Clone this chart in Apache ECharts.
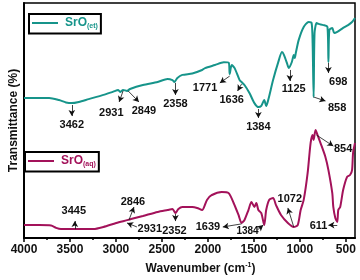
<!DOCTYPE html>
<html><head><meta charset="utf-8">
<script src="https://cdn.jsdelivr.net/npm/echarts@6/dist/echarts.min.js"></script>
<style>html,body{margin:0;padding:0;background:#fff}#c{width:360px;height:280px}</style>
</head><body><div id="c"></div>
<script>
// ---- data (wavenumber cm-1, transmittance in arbitrary %) ----
const wnEt = [4000,3726,3619,3544,3480,3404,3297,3136,3029,2975,2954,2922,2879,2847,2707,2546,2439,2385,2364,2332,2278,2170,2063,2031,1924,1827,1774,1763,1741,1709,1655,1634,1602,1548,1494,1451,1419,1387,1366,1344,1291,1237,1194,1173,1141,1119,1087,1066,1055,1044,1012,958,904,872,861,850,840,818,797,743,700,689,679,647,626,593,529,475,432,400];
const tEt  = [59.6,59.6,58.7,57.7,57.4,57.9,59.1,60.9,62.3,63.0,62.1,63.0,62.6,63.4,65.1,66.4,67.7,67.2,66.4,68.1,69.4,70.0,71.5,72.3,73.6,74.8,74.6,69.8,73.6,72.3,67.2,66.4,65.1,61.7,57.4,55.7,56.2,58.7,56.2,58.7,67.2,74.5,79.1,77.9,74.5,72.3,74.9,77.9,76.6,78.7,84.3,89.8,91.9,91.5,83.0,60.0,87.2,91.5,91.1,90.6,89.8,74.9,88.5,89.4,87.2,87.7,89.4,90.6,91.9,93.6];
const wnAq = [4000,3834,3705,3651,3598,3404,3244,3136,2997,2868,2836,2707,2546,2439,2385,2353,2321,2278,2170,2117,2063,2010,1956,1849,1774,1720,1667,1634,1602,1559,1526,1494,1473,1451,1419,1387,1366,1334,1291,1259,1205,1130,1066,1023,991,958,915,883,861,850,829,807,775,722,689,647,636,614,593,582,561,529,486,454,432,421,400];
const tAq  = [5.5,5.5,5.3,4.3,3.8,3.8,3.8,4.7,6.4,7.7,8.1,9.4,11.1,11.9,12.3,10.6,12.3,13.2,13.2,12.8,11.9,16.2,18.3,19.6,19.1,14.9,9.8,6.4,7.7,11.9,15.3,13.2,14.9,11.9,10.6,5.5,11.9,16.2,17.0,14.0,9.8,6.4,4.7,5.5,11.9,16.2,27.7,40.4,43.8,41.7,46.0,43.8,40.4,34.5,28.9,19.1,13.2,8.5,6.8,11.9,13.2,20.4,26.0,26.8,28.9,36.2,40.4];
const xTicks = [4000,3500,3000,2500,2000,1500,1000,500];
const xMinor = [3750,3250,2750,2250,1750,1250,750];
const seriesNames = ['SrO(et)','SrO(aq)'];
// peak annotations: [text, labelW, labelV, fromW, fromV, toW, toV]
const annEt = [
 ['3462',3480,48.1,3480,56.6,3480,51.9],
 ['2931',3050,53.2,2922,62.6,2965,57.9],
 ['2849',2696,54.0,2868,62.6,2750,57.9],
 ['2358',2353,57.0,2353,66.0,2353,60.9],
 ['1771',2031,63.8,1763,68.9,1870,66.0],
 ['1636',1741,58.7,1634,65.5,1677,62.6],
 ['1384',1451,47.2,1451,54.9,1451,51.1],
 ['1125',1066,63.4,1109,71.5,1109,66.8],
 ['698',582,66.4,689,74.5,689,70.2],
 ['858',594,55.3,850,60.0,721,58.3]
];
const annAq = [
 ['3445',3458,11.5,3447,3.8,3447,7.2],
 ['2846',2815,15.3,2858,7.7,2804,13.2],
 ['2931',2632,3.8,2772,4.7,2879,6.4],
 ['2352',2364,3.0,2353,10.2,2353,7.2],
 ['1639',2000,4.7,1634,6.0,1838,4.7],
 ['1384',1569,3.0,1462,3.4,1398,5.5],
 ['1072',1109,16.6,1066,4.7,1130,12.8],
 ['611',797,5.1,593,5.5,689,5.5],
 ['854',529,37.9,818,43.8,636,39.1]
];
// ---- styles ----
const cEt = '#16948a', cAq = '#a3125a';
const FONT = '"Liberation Sans", Arial, sans-serif';
function zip(a,b){return a.map((v,i)=>[v,b[i]]);}
function marks(ann, small){
  return {
    markLine:{silent:true,animation:false,symbol:['none','arrow'],symbolSize:[5,6],
      lineStyle:{color:'#111',width:0.8,type:'solid'},label:{show:false},
      data: ann.map(a=>[{coord:[a[3],a[4]]},{coord:[a[5],a[6]]}])},
    markPoint:{silent:true,animation:false,symbol:'circle',symbolSize:0,
      data: ann.map(a=>({coord:[a[1],a[2]],value:a[0],
        label:{show:true,position:'inside',formatter:a[0],color:'#111',fontFamily:FONT,fontWeight:'bold',
               fontSize:(small&&a[0]==='1384')?10:11}}))}
  };
}
const chart = echarts.init(document.getElementById('c'),null,{renderer:'canvas'});
const legendBase = {orient:'horizontal',itemWidth:26,itemHeight:2,itemGap:0,icon:'rect',
  borderColor:'#000',borderWidth:2,borderRadius:0,padding:[3,3,4,3],selectedMode:false};
chart.setOption({
  animation:false,
  grid:{left:20,right:5,top:3,bottom:42,show:true,borderColor:'#000',borderWidth:1.5},
  legend:[
    Object.assign({},legendBase,{left:29,top:14,data:[{name:seriesNames[0],textStyle:{color:cEt}}],
      formatter:()=> '{a|SrO}{b|(et)}',
      textStyle:{padding:[0,0,0,2],rich:{a:{fontSize:12,fontWeight:'bold',fontFamily:FONT,color:cEt},
        b:{fontSize:7,fontWeight:'bold',fontFamily:FONT,color:cEt,verticalAlign:'bottom',padding:[6,0,0,0]}}}}),
    Object.assign({},legendBase,{left:25,top:152,data:[{name:seriesNames[1],textStyle:{color:cAq}}],
      formatter:()=> '{a|SrO}{b|(aq)}',
      textStyle:{padding:[0,0,0,2],rich:{a:{fontSize:12,fontWeight:'bold',fontFamily:FONT,color:cAq},
        b:{fontSize:7,fontWeight:'bold',fontFamily:FONT,color:cAq,verticalAlign:'bottom',padding:[6,0,0,0]}}}})
  ],
  xAxis:[{
    type:'value',min:400,max:4000,inverse:true,
    name:'Wavenumber (cm{s|-1})',nameLocation:'middle',nameGap:24,
    nameTextStyle:{fontFamily:FONT,fontWeight:'bold',fontSize:12,color:'#111',padding:[0,0,0,22],
      rich:{s:{fontSize:7,fontWeight:'bold',fontFamily:FONT,verticalAlign:'top',padding:[0,0,6,0]}}},
    axisLine:{show:true,lineStyle:{color:'#000',width:2}},
    axisTick:{show:true,length:4,inside:false,customValues:xTicks,lineStyle:{color:'#000',width:1.5}},
    axisLabel:{customValues:xTicks,formatter:v=>String(v),fontFamily:FONT,fontWeight:'bold',fontSize:12,color:'#111',margin:6},
    splitLine:{show:false}
  },{
    type:'value',min:400,max:4000,inverse:true,position:'bottom',
    axisLine:{show:false},axisLabel:{show:false},splitLine:{show:false},
    axisTick:{show:true,length:2,customValues:xMinor,lineStyle:{color:'#000',width:1.5}}
  }],
  yAxis:{type:'value',min:0,max:100,name:'Transmittance (%)',nameLocation:'middle',nameGap:4,
    nameTextStyle:{fontFamily:FONT,fontWeight:'bold',fontSize:12,color:'#111'},
    axisLine:{show:true,lineStyle:{color:'#000',width:2}},axisTick:{show:false},axisLabel:{show:false},splitLine:{show:false}},
  series:[
    Object.assign({name:seriesNames[0],type:'line',data:zip(wnEt,tEt),showSymbol:false,smooth:0.25,
      lineStyle:{color:cEt,width:2},itemStyle:{color:cEt}},marks(annEt,false)),
    Object.assign({name:seriesNames[1],type:'line',data:zip(wnAq,tAq),showSymbol:false,smooth:0.25,
      lineStyle:{color:cAq,width:2},itemStyle:{color:cAq}},marks(annAq,true))
  ]
});
</script></body></html>
